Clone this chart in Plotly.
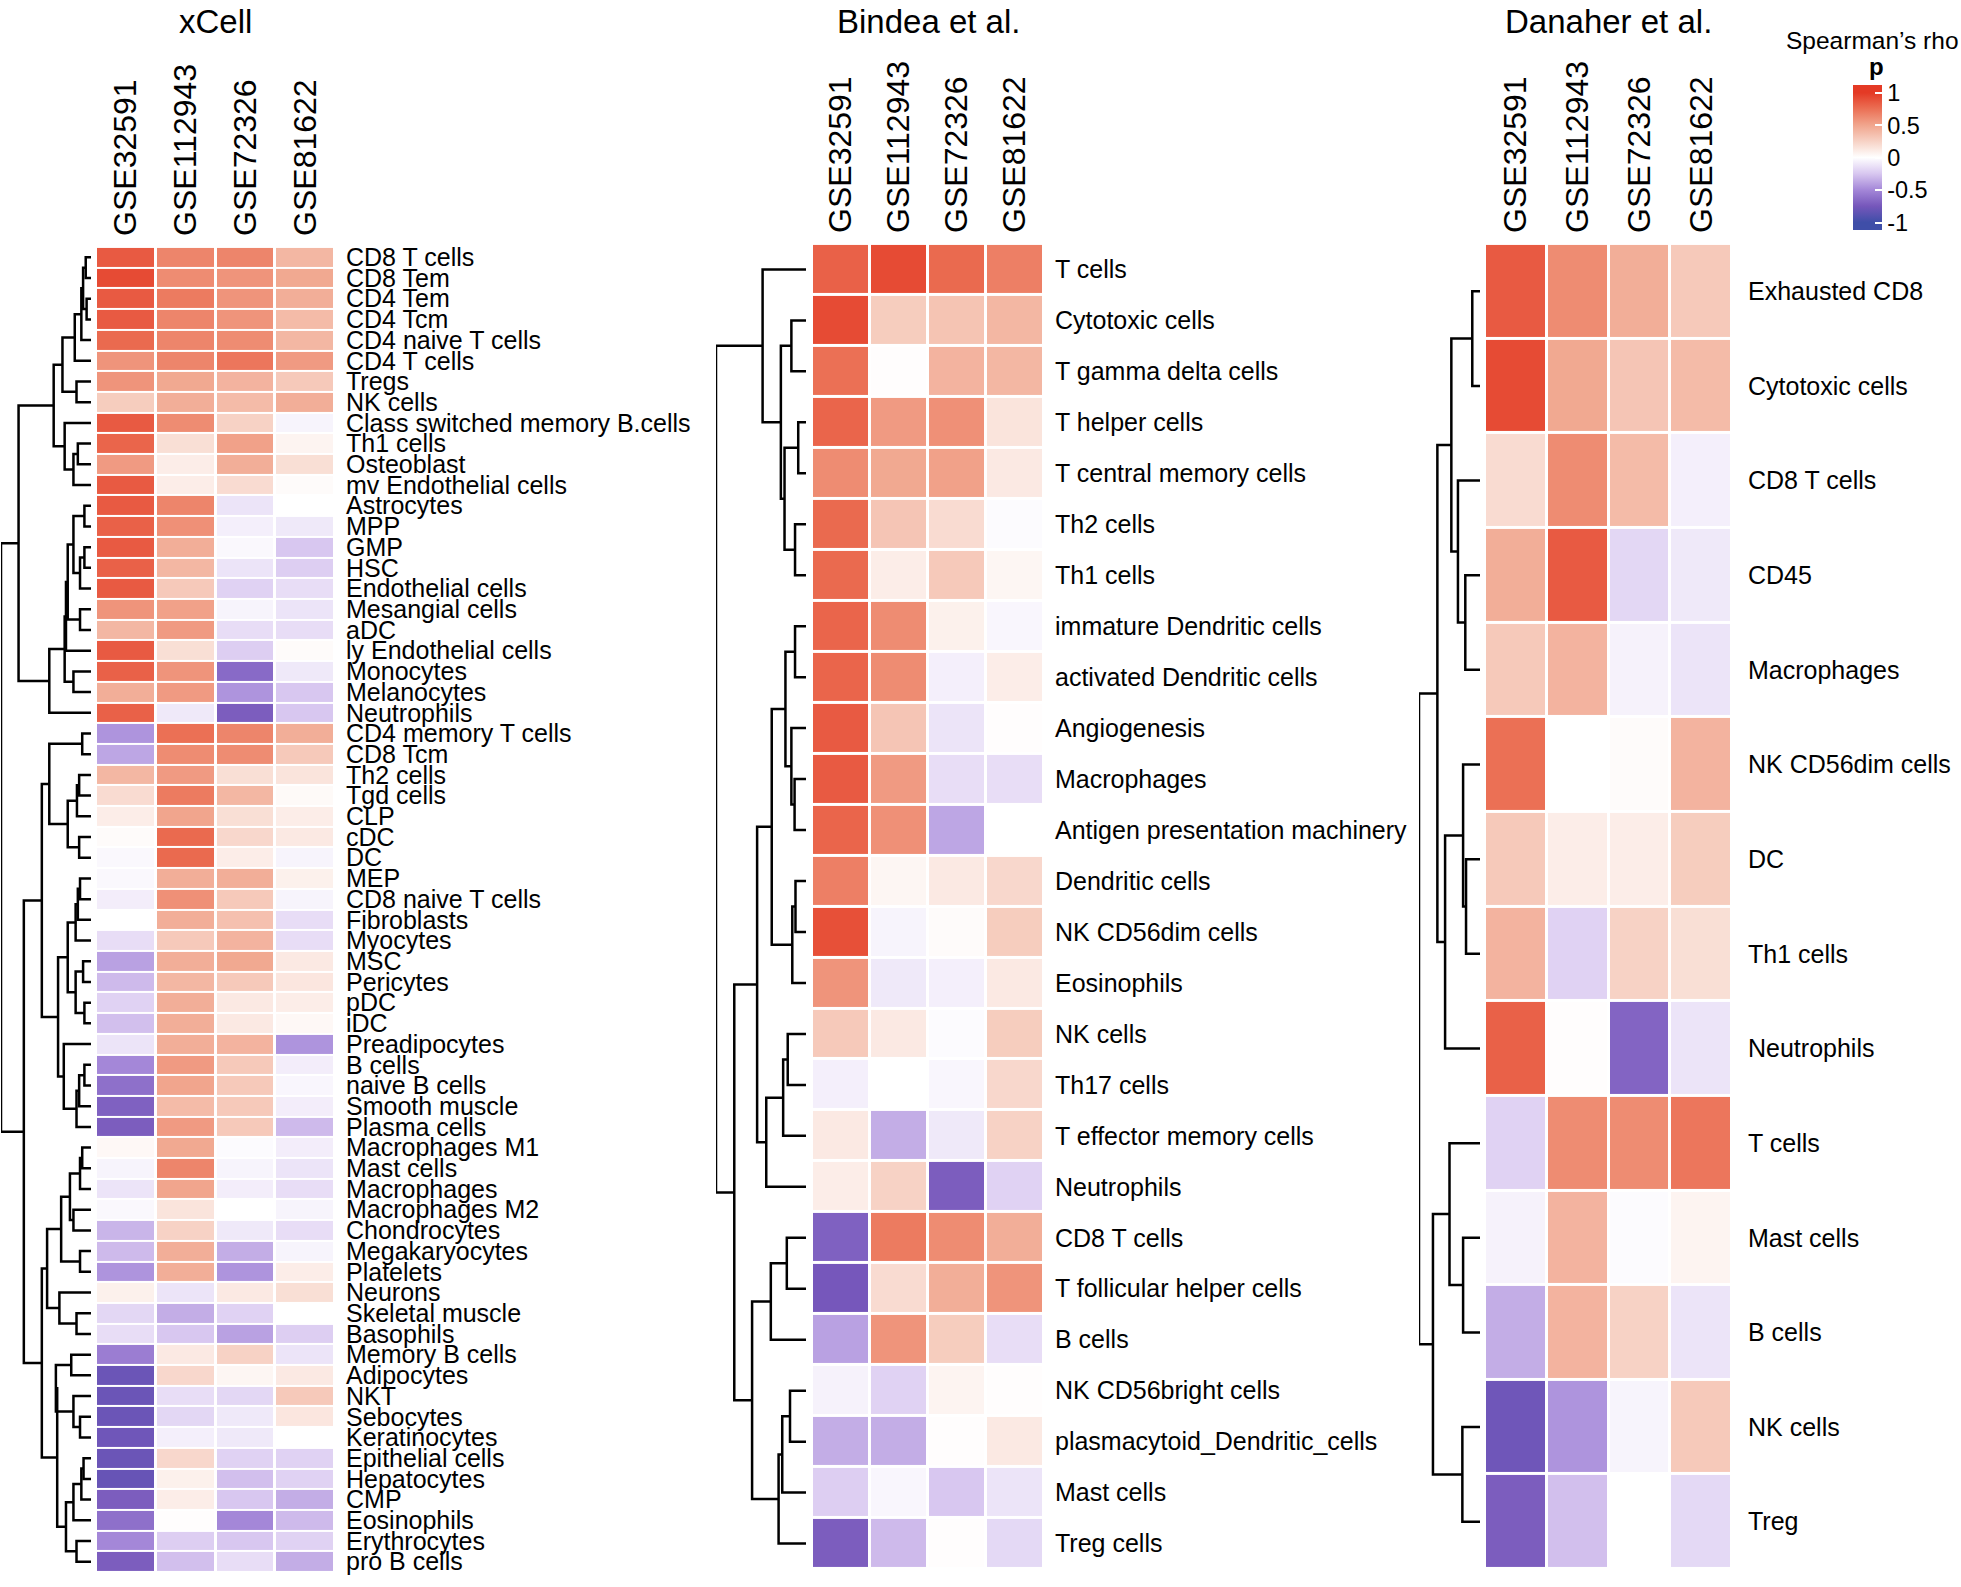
import plotly.graph_objects as go

W, H = 1961, 1587
FONT = "Liberation Sans, Arial, Helvetica, sans-serif"

# ---------------- data ----------------
datasets = ["GSE32591", "GSE112943", "GSE72326", "GSE81622"]

xcell_rows = [
    "CD8 T cells", "CD8 Tem", "CD4 Tem", "CD4 Tcm", "CD4 naive T cells", "CD4 T cells",
    "Tregs", "NK cells", "Class switched memory B.cells", "Th1 cells", "Osteoblast",
    "mv Endothelial cells", "Astrocytes", "MPP", "GMP", "HSC", "Endothelial cells",
    "Mesangial cells", "aDC", "ly Endothelial cells", "Monocytes", "Melanocytes",
    "Neutrophils", "CD4 memory T cells", "CD8 Tcm", "Th2 cells", "Tgd cells", "CLP",
    "cDC", "DC", "MEP", "CD8 naive T cells", "Fibroblasts", "Myocytes", "MSC",
    "Pericytes", "pDC", "iDC", "Preadipocytes", "B cells", "naive B cells",
    "Smooth muscle", "Plasma cells", "Macrophages M1", "Mast cells", "Macrophages",
    "Macrophages M2", "Chondrocytes", "Megakaryocytes", "Platelets", "Neurons",
    "Skeletal muscle", "Basophils", "Memory B cells", "Adipocytes", "NKT", "Sebocytes",
    "Keratinocytes", "Epithelial cells", "Hepatocytes", "CMP", "Eosinophils",
    "Erythrocytes", "pro B cells",
]
xcell_values = [
    [0.85, 0.65, 0.65, 0.40], [0.92, 0.62, 0.58, 0.48], [0.85, 0.70, 0.58, 0.45],
    [0.85, 0.65, 0.58, 0.38], [0.78, 0.65, 0.62, 0.40], [0.58, 0.65, 0.72, 0.55],
    [0.58, 0.48, 0.42, 0.30], [0.28, 0.45, 0.38, 0.45], [0.85, 0.62, 0.25, -0.05],
    [0.80, 0.18, 0.52, 0.06], [0.55, 0.10, 0.45, 0.18], [0.85, 0.10, 0.20, 0.02],
    [0.85, 0.65, -0.12, 0.00], [0.82, 0.60, -0.07, -0.10], [0.85, 0.45, -0.03, -0.25],
    [0.82, 0.40, -0.12, -0.22], [0.85, 0.30, -0.20, -0.15], [0.58, 0.52, -0.05, -0.12],
    [0.40, 0.55, -0.15, -0.15], [0.85, 0.18, -0.22, 0.02], [0.82, 0.58, -0.65, -0.10],
    [0.45, 0.55, -0.45, -0.25], [0.82, -0.10, -0.72, -0.25], [-0.45, 0.75, 0.65, 0.45],
    [-0.38, 0.62, 0.62, 0.30], [0.40, 0.55, 0.18, 0.15], [0.20, 0.70, 0.40, 0.03],
    [0.10, 0.50, 0.18, 0.10], [0.02, 0.78, 0.22, 0.12], [-0.03, 0.78, 0.10, -0.05],
    [-0.03, 0.45, 0.45, 0.08], [-0.08, 0.60, 0.30, -0.05], [0.00, 0.45, 0.35, -0.15],
    [-0.15, 0.30, 0.42, -0.15], [-0.40, 0.45, 0.48, 0.12], [-0.30, 0.40, 0.30, 0.14],
    [-0.20, 0.45, 0.12, 0.10], [-0.28, 0.45, 0.12, 0.04], [-0.12, 0.45, 0.42, -0.45],
    [-0.50, 0.55, 0.30, -0.08], [-0.62, 0.50, 0.30, -0.04], [-0.70, 0.38, 0.30, -0.08],
    [-0.72, 0.55, 0.30, -0.30], [0.04, 0.48, -0.02, -0.08], [-0.05, 0.65, -0.05, -0.12],
    [-0.12, 0.50, -0.08, -0.15], [-0.03, 0.15, 0.00, -0.05], [-0.32, 0.25, -0.10, -0.15],
    [-0.30, 0.45, -0.35, -0.05], [-0.45, 0.45, -0.45, 0.10], [0.08, -0.12, 0.12, 0.18],
    [-0.18, -0.35, -0.20, 0.00], [-0.15, -0.25, -0.40, -0.22], [-0.55, 0.12, 0.25, -0.12],
    [-0.80, 0.22, 0.05, 0.12], [-0.80, -0.15, -0.18, 0.30], [-0.80, -0.18, -0.10, 0.14],
    [-0.78, -0.07, -0.10, 0.00], [-0.80, 0.22, -0.20, -0.20], [-0.82, 0.08, -0.28, -0.20],
    [-0.72, 0.10, -0.25, -0.35], [-0.62, 0.01, -0.50, -0.30], [-0.50, -0.22, -0.25, -0.20],
    [-0.72, -0.28, -0.15, -0.35],
]
# merges: (first row, last row of left child, last row of right child, height), 1-based rows
xcell_merges = [
    (1, 1, 2, 12), (3, 3, 4, 10), (1, 2, 4, 18), (1, 4, 5, 22), (1, 5, 6, 37),
    (7, 7, 8, 33), (1, 6, 8, 65), (10, 10, 11, 30), (10, 11, 12, 40), (9, 9, 12, 60),
    (1, 8, 12, 85), (13, 13, 14, 15), (15, 15, 16, 15), (15, 16, 17, 25), (13, 14, 17, 40),
    (18, 18, 19, 25), (13, 17, 19, 53), (13, 19, 20, 57), (21, 21, 22, 40), (13, 20, 22, 60),
    (13, 22, 23, 95), (1, 12, 23, 165), (24, 24, 25, 20), (26, 26, 27, 27), (26, 27, 28, 32),
    (29, 29, 30, 27), (26, 28, 30, 53), (24, 25, 30, 95), (31, 31, 32, 25), (31, 32, 33, 30),
    (31, 33, 34, 35), (35, 35, 36, 18), (37, 37, 38, 15), (35, 36, 38, 35), (31, 34, 38, 53),
    (40, 40, 41, 15), (40, 41, 42, 27), (40, 42, 43, 33), (39, 39, 43, 62), (31, 38, 43, 75),
    (24, 30, 43, 112), (44, 44, 45, 20), (44, 45, 46, 25), (47, 47, 48, 40), (44, 46, 48, 48),
    (49, 49, 50, 25), (44, 48, 50, 68), (52, 52, 53, 33), (51, 51, 53, 72), (44, 50, 53, 100),
    (54, 54, 55, 45), (57, 57, 58, 25), (56, 56, 58, 40), (54, 55, 58, 80), (59, 59, 60, 17),
    (59, 60, 61, 22), (59, 61, 62, 40), (63, 63, 64, 33), (59, 62, 64, 57), (54, 58, 64, 77),
    (44, 53, 64, 112), (24, 43, 64, 153), (1, 23, 64, 205),
]

bindea_rows = [
    "T cells", "Cytotoxic cells", "T gamma delta cells", "T helper cells",
    "T central memory cells", "Th2 cells", "Th1 cells", "immature Dendritic cells",
    "activated Dendritic cells", "Angiogenesis", "Macrophages",
    "Antigen presentation machinery", "Dendritic cells", "NK CD56dim cells",
    "Eosinophils", "NK cells", "Th17 cells", "T effector memory cells", "Neutrophils",
    "CD8 T cells", "T follicular helper cells", "B cells", "NK CD56bright cells",
    "plasmacytoid_Dendritic_cells", "Mast cells", "Treg cells",
]
bindea_values = [
    [0.82, 0.92, 0.78, 0.68], [0.92, 0.28, 0.33, 0.40], [0.75, 0.01, 0.42, 0.40],
    [0.80, 0.55, 0.60, 0.15], [0.62, 0.48, 0.52, 0.12], [0.78, 0.32, 0.20, -0.02],
    [0.78, 0.10, 0.30, 0.05], [0.80, 0.62, 0.08, -0.04], [0.80, 0.62, -0.07, 0.10],
    [0.85, 0.32, -0.12, 0.01], [0.85, 0.55, -0.15, -0.15], [0.80, 0.60, -0.38, 0.00],
    [0.68, 0.05, 0.12, 0.22], [0.90, -0.05, 0.02, 0.28], [0.58, -0.10, -0.07, 0.12],
    [0.30, 0.12, -0.02, 0.28], [-0.07, 0.00, -0.04, 0.22], [0.12, -0.35, -0.10, 0.25],
    [0.10, 0.25, -0.72, -0.20], [-0.70, 0.70, 0.62, 0.45], [-0.75, 0.20, 0.45, 0.58],
    [-0.40, 0.58, 0.28, -0.15], [-0.06, -0.20, 0.06, 0.01], [-0.35, -0.35, 0.01, 0.12],
    [-0.22, -0.04, -0.25, -0.12], [-0.72, -0.30, 0.01, -0.17],
]
bindea_merges = [
    (2, 2, 3, 32), (4, 4, 5, 17), (6, 6, 7, 24), (4, 5, 7, 47), (2, 3, 7, 55),
    (1, 1, 7, 95), (8, 8, 9, 24), (11, 11, 12, 25), (10, 10, 12, 32), (8, 9, 12, 45),
    (13, 13, 14, 23), (13, 14, 15, 30), (8, 12, 15, 75), (16, 16, 17, 40), (16, 17, 18, 50),
    (16, 18, 19, 87), (8, 15, 19, 107), (20, 20, 21, 42), (20, 21, 22, 77), (23, 23, 24, 35),
    (23, 24, 25, 52), (23, 25, 26, 60), (20, 22, 26, 118), (8, 19, 26, 157), (1, 7, 26, 197),
]

danaher_rows = [
    "Exhausted CD8", "Cytotoxic cells", "CD8 T cells", "CD45", "Macrophages",
    "NK CD56dim cells", "DC", "Th1 cells", "Neutrophils", "T cells", "Mast cells",
    "B cells", "NK cells", "Treg",
]
danaher_values = [
    [0.85, 0.62, 0.45, 0.30], [0.92, 0.48, 0.32, 0.38], [0.20, 0.62, 0.38, -0.07],
    [0.45, 0.85, -0.18, -0.10], [0.30, 0.42, -0.06, -0.12], [0.75, 0.00, 0.02, 0.42],
    [0.30, 0.10, 0.10, 0.28], [0.42, -0.20, 0.25, 0.18], [0.82, 0.01, -0.68, -0.12],
    [-0.20, 0.62, 0.62, 0.72], [-0.06, 0.42, -0.02, 0.06], [-0.35, 0.42, 0.25, -0.12],
    [-0.78, -0.45, -0.05, 0.30], [-0.72, -0.28, 0.00, -0.17],
]
danaher_merges = [
    (1, 1, 2, 21), (4, 4, 5, 40), (3, 3, 5, 60), (1, 2, 5, 78), (7, 7, 8, 38),
    (6, 6, 8, 46), (6, 8, 9, 95), (1, 5, 9, 116), (11, 11, 12, 46), (10, 10, 12, 83),
    (13, 13, 14, 48), (10, 12, 14, 128), (1, 9, 14, 166),
]

legend_ticks = [-1, -0.5, 0, 0.5, 1]
legend_ticktext = ["-1", "-0.5", "0", "0.5", "1"]

# ---------------- colour scale ----------------
ZMIN, ZMAX = -1.12, 1.12
stop_vals = [-1, -0.75, -0.5, -0.25, 0, 0.25, 0.5, 0.75, 1]
stop_cols = ["#3F4EA8", "#7657BB", "#A487D8", "#D8C7F0", "#FFFFFF",
             "#F7D2C5", "#F1A58D", "#EB7055", "#E43A25"]
colorscale = [[0.0, stop_cols[0]]]
for v, c in zip(stop_vals, stop_cols):
    colorscale.append([(v - ZMIN) / (ZMAX - ZMIN), c])
colorscale.append([1.0, stop_cols[-1]])

# ---------------- layout helpers ----------------
def fx(p):
    return p / W

def fy(p):
    return 1 - p / H

panels = [
    dict(title="xCell", rows=xcell_rows, vals=xcell_values, merges=xcell_merges,
         hm=(96, 335), top=244, bottom=1575, dn=(1, 91), gap=(3, 2), lab=10),
    dict(title="Bindea et al.", rows=bindea_rows, vals=bindea_values, merges=bindea_merges,
         hm=(812, 1044), top=241, bottom=1572, dn=(716, 806), gap=(3, 3), lab=10),
    dict(title="Danaher et al.", rows=danaher_rows, vals=danaher_values, merges=danaher_merges,
         hm=(1485, 1732), top=241, bottom=1572, dn=(1419, 1480), gap=(3, 3), lab=15),
]


def dendro_segments(n, merges):
    nodes = {(i, i): (float(i), 0.0) for i in range(n)}
    xs, ys = [], []
    for a, m, b, h in sorted(merges, key=lambda t: t[2] - t[0]):
        a0, m0, b0 = a - 1, m - 1, b - 1
        pl, hl = nodes[(a0, m0)]
        pr, hr = nodes[(m0 + 1, b0)]
        xs += [hl, h, h, hr, None]
        ys += [pl, pl, pr, pr, None]
        nodes[(a0, b0)] = ((pl + pr) / 2.0, float(h))
    return xs, ys


fig = go.Figure()
layout = dict(
    width=W, height=H, margin=dict(l=0, r=0, t=0, b=0),
    paper_bgcolor="white", plot_bgcolor="white", showlegend=False,
    font=dict(family=FONT, color="black"),
)
annotations = []

for k, p in enumerate(panels):
    n = len(p["rows"])
    hx, hy = 2 * k + 1, 2 * k + 1
    dx, dy = 2 * k + 2, 2 * k + 2
    sfx = lambda i: "" if i == 1 else str(i)
    ydom = [fy(p["bottom"]), fy(p["top"])]

    fig.add_trace(go.Heatmap(
        z=p["vals"], x=list(range(4)), y=list(range(n)),
        zmin=ZMIN, zmax=ZMAX, colorscale=colorscale,
        xgap=p["gap"][0], ygap=p["gap"][1],
        xaxis="x" + sfx(hx), yaxis="y" + sfx(hy),
        showscale=(k == 0), hoverinfo="skip",
        colorbar=dict(
            x=fx(1853), xanchor="left", xpad=0, ypad=0,
            y=fy(154.5), yanchor="middle",
            thicknessmode="pixels", thickness=29,
            lenmode="pixels", len=145,
            outlinewidth=0, ticks="inside", ticklen=7, tickcolor="white",
            tickwidth=2,
            tickvals=legend_ticks, ticktext=legend_ticktext,
            tickfont=dict(size=23.5, family=FONT, color="black"),
        ),
    ))
    layout["xaxis" + sfx(hx)] = dict(
        domain=[fx(p["hm"][0]), fx(p["hm"][1])], range=[-0.5, 3.5],
        anchor="y" + sfx(hy), side="top", tickvals=list(range(4)), ticktext=datasets,
        tickangle=-90, tickfont=dict(size=32, family=FONT, color="black"),
        showgrid=False, zeroline=False, showline=False, ticks="",
        ticklabelstandoff=10,
    )
    layout["yaxis" + sfx(hy)] = dict(
        domain=ydom, range=[n - 0.5, -0.5], anchor="x" + sfx(hx), side="right",
        tickvals=list(range(n)), ticktext=p["rows"],
        tickfont=dict(size=25, family=FONT, color="black"),
        showgrid=False, zeroline=False, showline=False, ticks="",
        ticklabelstandoff=p["lab"],
    )

    xs, ys = dendro_segments(n, p["merges"])
    hmax = max(m[3] for m in p["merges"])
    fig.add_trace(go.Scatter(
        x=xs, y=ys, mode="lines", line=dict(color="black", width=2.5),
        xaxis="x" + sfx(dx), yaxis="y" + sfx(dy), hoverinfo="skip",
        cliponaxis=False,
    ))
    layout["xaxis" + sfx(dx)] = dict(
        domain=[fx(p["dn"][0]), fx(p["dn"][1])], range=[hmax, 0],
        anchor="y" + sfx(dy), visible=False,
    )
    layout["yaxis" + sfx(dy)] = dict(
        domain=ydom, range=[n - 0.5, -0.5], anchor="x" + sfx(dx), visible=False,
    )

    annotations.append(dict(
        text=p["title"], xref="paper", yref="paper",
        x=fx((p["hm"][0] + p["hm"][1]) / 2), y=fy(17.5),
        xanchor="center", yanchor="middle", showarrow=False,
        font=dict(size=33, family=FONT, color="black"),
    ))

annotations.append(dict(
    text="Spearman’s rho", xref="paper", yref="paper", x=fx(1872), y=fy(37),
    xanchor="center", yanchor="middle", showarrow=False,
    font=dict(size=24.5, family=FONT, color="black"),
))
annotations.append(dict(
    text="<b>p</b>", xref="paper", yref="paper", x=fx(1876), y=fy(63),
    xanchor="center", yanchor="middle", showarrow=False,
    font=dict(size=24, family=FONT, color="black"),
))
layout["annotations"] = annotations
fig.update_layout(**layout)

fig.write_html(
    "out.html",
    config={"displayModeBar": False},
    post_script="document.body.style.margin='0px';document.body.style.overflow='hidden';",
)
